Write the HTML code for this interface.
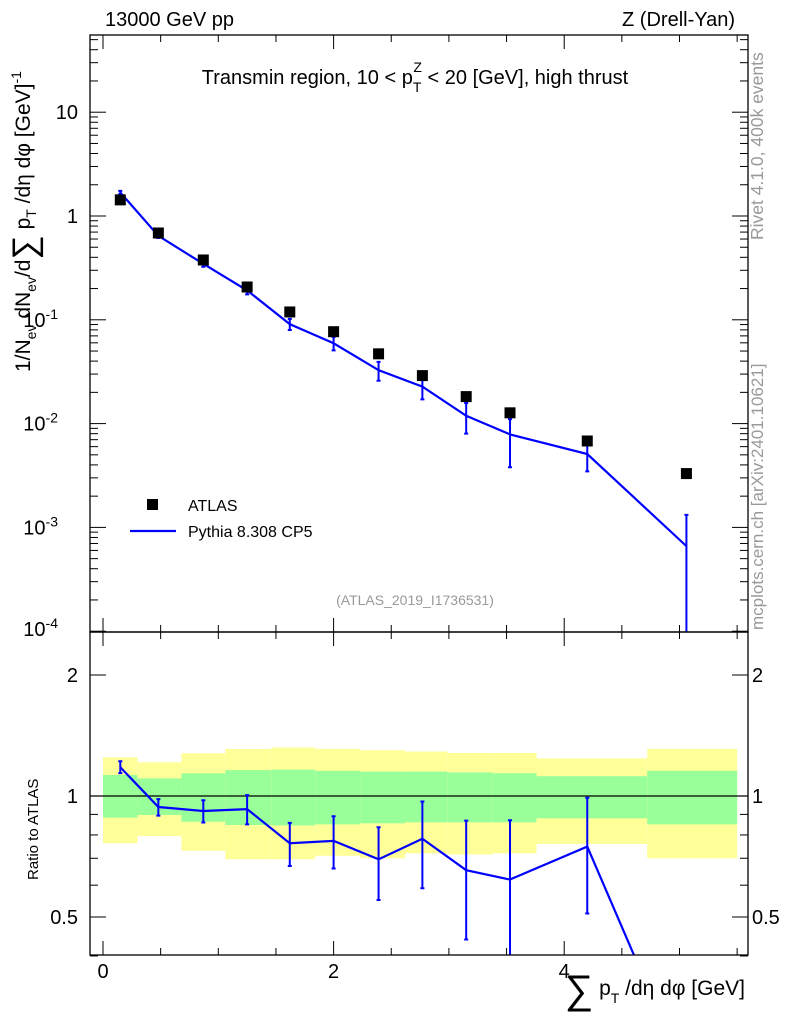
<!DOCTYPE html>
<html><head><meta charset="utf-8"><style>
html,body{margin:0;background:#fff;font-family:"Liberation Sans",sans-serif;overflow:hidden;width:786px;height:1024px;}
svg{display:block;}
svg text{font-family:"Liberation Sans",sans-serif;}
</style></head><body>
<svg id="c" width="786" height="1024" xmlns="http://www.w3.org/2000/svg">
<text x="105" y="26" font-size="20">13000 GeV pp</text>
<text x="735" y="26" font-size="20" text-anchor="end">Z (Drell-Yan)</text>
<text x="415" y="84" font-size="20" text-anchor="middle">Transmin region, 10 &lt; p<tspan dy="8" font-size="14">T</tspan><tspan dx="-8" dy="-20" font-size="14">Z</tspan><tspan dy="12"> &lt; 20 [GeV], high thrust</tspan></text>
<text transform="translate(763,240) rotate(-90)" font-size="17.5" fill="#999">Rivet 4.1.0,  400k events</text>
<text transform="translate(763,630) rotate(-90)" font-size="17" fill="#999">mcplots.cern.ch [arXiv:2401.10621]</text>
<text x="415" y="605" font-size="14" fill="#999" text-anchor="middle">(ATLAS_2019_I1736531)</text>
<text transform="translate(30,372) rotate(-90)" font-size="21">1/N<tspan font-size="14" dy="6">ev</tspan><tspan dy="-6"> dN</tspan><tspan font-size="14" dy="6">ev</tspan><tspan dy="-6">/d</tspan><tspan font-size="34" dy="6">∑</tspan><tspan dy="-6"> p</tspan><tspan font-size="14" dy="6">T</tspan><tspan dy="-6"> /dη dφ  [GeV]</tspan><tspan font-size="14" dy="-9">-1</tspan></text>
<text transform="translate(38,880) rotate(-90)" font-size="15">Ratio to ATLAS</text>
<text x="745" y="995" font-size="21" text-anchor="end"><tspan font-size="40" dy="8">∑</tspan><tspan dy="-8"> p</tspan><tspan font-size="14" dy="8">T</tspan><tspan dy="-8"> /dη dφ [GeV]</tspan></text>
<g id="g"></g>
</svg>
<script>
const binEdges=[0,0.3,0.68,1.06,1.46,1.84,2.23,2.62,2.99,3.38,3.76,4.72,5.5];
const xCenters=[0.15,0.48,0.87,1.25,1.62,2.0,2.39,2.77,3.15,3.53,4.2,5.06];
const atlas=[1.43,0.686,0.377,0.207,0.119,0.0768,0.047,0.029,0.0182,0.0127,0.0068,0.0033];
const pythia=[1.686,0.644,0.346,0.192,0.0908,0.0594,0.0327,0.0227,0.0119,0.00787,0.00509,0.00066];
const pythiaHi=[1.745,0.674,0.368,0.208,0.102,0.0684,0.0393,0.0281,0.0158,0.01105,0.00673,0.00132];
const pythiaLo=[1.63,0.613,0.324,0.176,0.0797,0.0507,0.0259,0.0171,0.008,0.0038,0.00347,0.000001];
const yellowHi=[1.248,1.213,1.277,1.309,1.32,1.31,1.30,1.29,1.28,1.28,1.24,1.31];
const greenHi=[1.128,1.106,1.139,1.16,1.163,1.155,1.15,1.15,1.145,1.14,1.12,1.155];
const greenLo=[0.883,0.897,0.863,0.847,0.845,0.85,0.855,0.86,0.86,0.86,0.88,0.85];
const yellowLo=[0.763,0.795,0.731,0.696,0.696,0.71,0.70,0.72,0.715,0.72,0.76,0.70];
const xTicks=[0,2,4];
const yTopTicks=[1e-4,1e-3,1e-2,1e-1,1,10];
const yTopLabels=["10<tspan dy='-8' font-size='14'>-4</tspan>","10<tspan dy='-8' font-size='14'>-3</tspan>","10<tspan dy='-8' font-size='14'>-2</tspan>","10<tspan dy='-8' font-size='14'>-1</tspan>","1","10"];
const ratioTicks=[0.5,1,2];

const L=90,R=748,T1=35,B1=632,B2=955;
const X=v=>103+v*115.3;
const Y1=v=>216-Math.log10(v)*103.8;
const Y2=v=>796-Math.log2(v)*121;
const g=document.getElementById('g');
const NS='http://www.w3.org/2000/svg';
function el(t,a,p){const e=document.createElementNS(NS,t);for(const k in a)e.setAttribute(k,a[k]);(p||g).appendChild(e);return e;}
const defs=el('defs',{});
const c1=el('clipPath',{id:'cp1'},defs);el('rect',{x:L,y:T1,width:R-L,height:B1-T1},c1);
const c2=el('clipPath',{id:'cp2'},defs);el('rect',{x:L,y:B1,width:R-L,height:B2-B1},c2);
const gt=el('g',{'clip-path':'url(#cp1)'});


const gb=el('g',{'clip-path':'url(#cp2)'});


for(let i=0;i<atlas.length;i++){
  const x0=X(binEdges[i]),x1=X(binEdges[i+1]);
  const y=el('rect',{x:x0,y:Y2(yellowHi[i]),width:x1-x0,height:Y2(yellowLo[i])-Y2(yellowHi[i]),fill:'#ffff99'},gb);
  
  
  const gr=el('rect',{x:x0,y:Y2(greenHi[i]),width:x1-x0,height:Y2(greenLo[i])-Y2(greenHi[i]),fill:'#99ff99'},gb);
  
  
}
el('line',{x1:L,x2:R,y1:Y2(1),y2:Y2(1),stroke:'#000','stroke-width':1.3},gb);
let p1='',p2='';
for(let i=0;i<pythia.length;i++){p1+=(i?'L':'M')+X(xCenters[i])+','+Y1(pythia[i]);p2+=(i?'L':'M')+X(xCenters[i])+','+Y2(pythia[i]/atlas[i]);}
const l1=el('path',{d:p1,fill:'none',stroke:'#0000ff','stroke-width':2.2},gt);


const l2=el('path',{d:p2,fill:'none',stroke:'#0000ff','stroke-width':2.2},gb);


for(let i=0;i<pythia.length;i++){
  const x=X(xCenters[i]);
  [[gt,Y1(pythiaHi[i]),Y1(pythiaLo[i])],[gb,Y2(pythiaHi[i]/atlas[i]),Y2(pythiaLo[i]/atlas[i])]].forEach(([p,a,b])=>{
    const e=el('path',{d:`M${x},${a}L${x},${b}M${x-2},${a}L${x+2},${a}M${x-2},${b}L${x+2},${b}`,stroke:'#0000ff','stroke-width':2},p);
    
    
  });
  const m=el('rect',{x:X(xCenters[i])-5.5,y:Y1(atlas[i])-5.5,width:11,height:11,fill:'#000'},gt);
  
  
}
el('rect',{x:L,y:T1,width:R-L,height:B1-T1,fill:'none',stroke:'#000','stroke-width':1.3});
el('rect',{x:L,y:B1,width:R-L,height:B2-B1,fill:'none',stroke:'#000','stroke-width':1.3});
for(let v=0;v<=5.5;v+=0.5){const maj=xTicks.includes(v);const len=maj?14:7;
  [[B1,-1],[B2,-1],[T1,1],[B1,1]].forEach(([yy,d])=>el('line',{x1:X(v),x2:X(v),y1:yy,y2:yy+d*len,stroke:'#000'}));}
xTicks.forEach(v=>{const t=el('text',{x:X(v),y:978,'font-size':20,'text-anchor':'middle'});t.textContent=v;
  
  });
for(let d=-4;d<=1;d++){for(let k=1;k<10;k++){const v=k*Math.pow(10,d);const y=Y1(v);if(y<T1||y>B1)continue;const len=k==1?16:8;
  el('line',{x1:L,x2:L+len,y1:y,y2:y,stroke:'#000'});el('line',{x1:R,x2:R-len,y1:y,y2:y,stroke:'#000'});}}
yTopTicks.forEach((v,i)=>{const t=el('text',{x:78,y:Y1(v)+7,'font-size':20,'text-anchor':'end'});t.innerHTML=yTopLabels[i];
  if(i<4){t.setAttribute('x',58);t.setAttribute('text-anchor','end');}
  if(i==0){t.setAttribute('y',Y1(v)+5);}
  
  });
[0.4,0.5,0.6,0.7,0.8,0.9,1,2].forEach(v=>{const y=Y2(v);const len=ratioTicks.includes(v)?16:8;
  el('line',{x1:L,x2:L+len,y1:y,y2:y,stroke:'#000'});el('line',{x1:R,x2:R-len,y1:y,y2:y,stroke:'#000'});});
ratioTicks.forEach(v=>{[[78,'end'],[752,'start']].forEach(([x,a])=>{const t=el('text',{x:x,y:Y2(v)+7,'font-size':20,'text-anchor':a});t.textContent=v;
  
  });});
const lg=el('g',{});


el('rect',{x:147,y:499,width:11,height:11,fill:'#000'},lg);
const t1=el('text',{x:188,y:511,'font-size':16},lg);t1.textContent='ATLAS';
el('line',{x1:130,x2:176,y1:531,y2:531,stroke:'#0000ff','stroke-width':2.2},lg);
const t2=el('text',{x:188,y:537,'font-size':16},lg);t2.textContent='Pythia 8.308 CP5';
</script>
</body></html>
